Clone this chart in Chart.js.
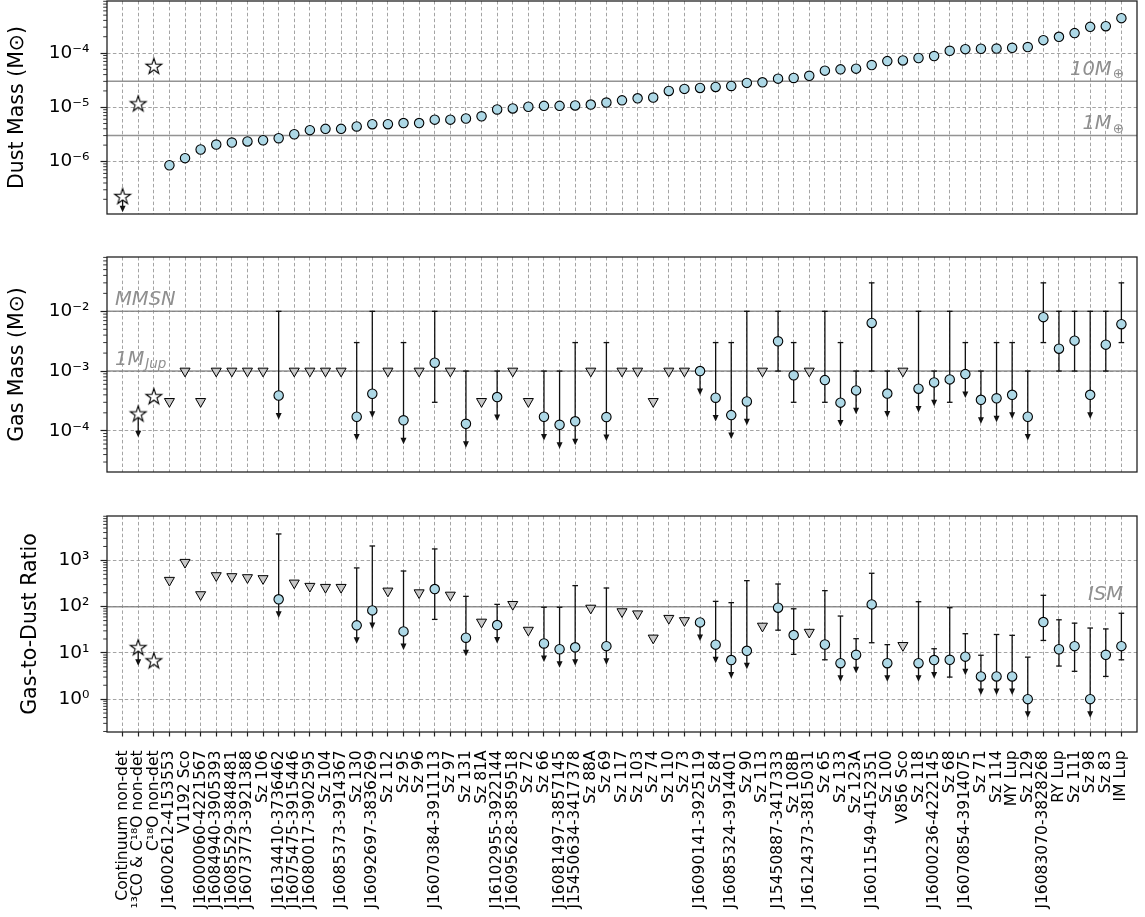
<!DOCTYPE html>
<html>
<head>
<meta charset="utf-8">
<title>Dust mass, gas mass and gas-to-dust ratio</title>
<script src="https://cdn.jsdelivr.net/npm/chart.js@4.4.1/dist/chart.umd.min.js"></script>
<style>
html,body{margin:0;padding:0;background:#fff;overflow:hidden;}
#wrap{position:relative;width:1145px;height:917px;}
#wrap canvas{position:absolute;left:0;}
</style>
</head>
<body>
<div id="wrap">
<canvas id="dust" width="1145" height="220" style="top:0px"></canvas>
<canvas id="gas" width="1145" height="230" style="top:250px"></canvas>
<canvas id="gtd" width="1145" height="409" style="top:508px"></canvas>
</div>
<script>
// ---------------- DATA ----------------
const labels = [
  'Continuum non-det', '\u00B9\u00B3CO & C\u00B9\u2078O non-det', 'C\u00B9\u2078O non-det',
  'J16002612-4153553', 'V1192 Sco', 'J16000060-4221567', 'J16084940-3905393', 'J16085529-3848481',
  'J16073773-3921388', 'Sz 106', 'J16134410-3736462', 'J16075475-3915446', 'J16080017-3902595',
  'Sz 104', 'J16085373-3914367', 'Sz 130', 'J16092697-3836269', 'Sz 112', 'Sz 95', 'Sz 96',
  'J16070384-3911113', 'Sz 97', 'Sz 131', 'Sz 81A', 'J16102955-3922144', 'J16095628-3859518',
  'Sz 72', 'Sz 66', 'J16081497-3857145', 'J15450634-3417378', 'Sz 88A', 'Sz 69', 'Sz 117',
  'Sz 103', 'Sz 74', 'Sz 110', 'Sz 73', 'J16090141-3925119', 'Sz 84', 'J16085324-3914401',
  'Sz 90', 'Sz 113', 'J15450887-3417333', 'Sz 108B', 'J16124373-3815031', 'Sz 65', 'Sz 133',
  'Sz 123A', 'J16011549-4152351', 'Sz 100', 'V856 Sco', 'Sz 118', 'J16000236-4222145', 'Sz 68',
  'J16070854-3914075', 'Sz 71', 'Sz 114', 'MY Lup', 'Sz 129', 'J16083070-3828268', 'RY Lup',
  'Sz 111', 'Sz 98', 'Sz 83', 'IM Lup'
];

// Dust mass (Msun); marker kind: S = star (stacked non-detections), C = circle
const dustMass = [
  2.3e-7, 1.18e-5, 5.8e-5, 8.5e-7, 1.15e-6, 1.66e-6, 2.05e-6, 2.23e-6, 2.34e-6, 2.46e-6,
  2.68e-6, 3.17e-6, 3.78e-6, 3.99e-6, 3.99e-6, 4.42e-6, 4.87e-6, 4.87e-6, 5.1e-6, 5.1e-6,
  5.9e-6, 5.9e-6, 6.2e-6, 6.8e-6, 9.1e-6, 9.5e-6, 1.02e-5, 1.06e-5, 1.06e-5, 1.08e-5,
  1.12e-5, 1.22e-5, 1.34e-5, 1.46e-5, 1.51e-5, 2.0e-5, 2.18e-5, 2.27e-5, 2.37e-5, 2.47e-5,
  2.81e-5, 2.88e-5, 3.37e-5, 3.47e-5, 3.8e-5, 4.73e-5, 5.0e-5, 5.15e-5, 6.0e-5, 7.1e-5,
  7.3e-5, 8.1e-5, 8.8e-5, 1.10e-4, 1.18e-4, 1.2e-4, 1.21e-4, 1.25e-4, 1.29e-4, 1.73e-4,
  1.99e-4, 2.33e-4, 3.04e-4, 3.13e-4, 4.4e-4
];
const dustKind = [
  'S','S','S','C','C','C','C','C','C','C',
  'C','C','C','C','C','C','C','C','C','C',
  'C','C','C','C','C','C','C','C','C','C',
  'C','C','C','C','C','C','C','C','C','C',
  'C','C','C','C','C','C','C','C','C','C',
  'C','C','C','C','C','C','C','C','C','C',
  'C','C','C','C','C'
];
const dustUpperLimits = [0];

// Gas: marker kind: - none, S star, T triangle (CO non-detection), C circle
const gasKind = [
  '-','S','S','T','T','T','T','T','T','T',
  'C','T','T','T','T','C','C','T','C','T',
  'C','T','C','T','C','T','T','C','C','C',
  'T','C','T','T','T','T','T','C','C','C',
  'C','T','C','C','T','C','C','C','C','C',
  'T','C','C','C','C','C','C','C','C','C',
  'C','C','C','C','C'
];
const gasUpperLimits = [1, 10, 15, 16, 18, 22, 24, 27, 28, 29, 31, 37, 38, 39, 40, 46, 47, 49, 51, 52, 54, 55, 56, 57, 58, 62];

// Gas mass (Msun)
const gasMass = [
  null, 1.95e-4, 3.8e-4, 3.1e-4, 1e-3, 3.1e-4, 1e-3, 1e-3, 1e-3, 1e-3,
  3.9e-4, 1e-3, 1e-3, 1e-3, 1e-3, 1.72e-4, 4.17e-4, 1e-3, 1.5e-4, 1e-3,
  1.38e-3, 1e-3, 1.31e-4, 3.1e-4, 3.67e-4, 1e-3, 3.1e-4, 1.72e-4, 1.26e-4, 1.44e-4,
  1e-3, 1.7e-4, 1e-3, 1e-3, 3.1e-4, 1e-3, 1e-3, 1e-3, 3.58e-4, 1.83e-4,
  3.1e-4, 1e-3, 3.15e-3, 8.5e-4, 1e-3, 7.06e-4, 2.96e-4, 4.75e-4, 6.4e-3, 4.2e-4,
  1e-3, 5.07e-4, 6.46e-4, 7.25e-4, 8.9e-4, 3.3e-4, 3.5e-4, 4.0e-4, 1.72e-4, 8.0e-3,
  2.37e-3, 3.23e-3, 4.0e-4, 2.77e-3, 6.1e-3
];
const gasMassHigh = [
  null, null, null, null, null, null, null, null, null, null,
  1e-2, null, null, null, null, 3e-3, 1e-2, null, 3e-3, null,
  1e-2, null, 1e-3, null, 1e-3, null, null, 1e-3, 1e-3, 3e-3,
  null, 3e-3, null, null, null, null, null, null, 3e-3, 3e-3,
  1e-2, null, 1e-2, 3e-3, null, 1e-2, 3e-3, 1e-3, 3e-2, 1e-3,
  null, 1e-2, 1e-3, 1e-2, 3e-3, 1e-3, 3e-3, 3e-3, 1e-3, 3e-2,
  1e-2, 1e-2, 1e-2, 1e-2, 3e-2
];
const gasMassLow = [
  null, null, null, null, null, null, null, null, null, null,
  null, null, null, null, null, null, null, null, null, null,
  3e-4, null, null, null, null, null, null, null, null, null,
  null, null, null, null, null, null, null, null, null, null,
  null, null, 1e-3, 3e-4, null, 3e-4, null, null, 1e-3, null,
  null, null, null, 3e-4, null, null, null, null, null, 3e-3,
  1e-3, 1e-3, null, 1e-3, 3e-3
];

// Gas-to-dust ratio
const gasToDust = [
  null, 13.3, 6.9, 372, 910, 182, 469, 447, 425, 405,
  144, 325, 276, 262, 262, 39.4, 83, 218, 29.2, 200,
  240, 178, 21.3, 46.4, 40, 112, 31, 16, 12, 13.2,
  93, 14, 78, 70, 21, 56, 50, 45.7, 15.1, 7.0,
  11.1, 38, 95, 24.3, 28, 15.2, 6.0, 9.1, 112, 6.0,
  14.5, 6.0, 7.0, 7.1, 8.3, 3.1, 3.1, 3.1, 1.0, 46.4,
  12.0, 14.0, 1.0, 9.1, 14.0
];
const gasToDustHigh = [
  null, null, null, null, null, null, null, null, null, null,
  3730, null, null, null, null, 688, 2050, null, 590, null,
  1770, null, 167, null, 112, null, null, 97, 97, 285,
  null, 253, null, null, null, null, null, null, 130, 122,
  365, null, 309, 90, null, 222, 62.7, 20.3, 527, 15.1,
  null, 128, 12.3, 95, 26, 8.9, 25, 24, 8.1, 176,
  52, 44, 34.5, 33, 72
];
const gasToDustLow = [
  null, null, null, null, null, null, null, null, null, null,
  null, null, null, null, null, null, null, null, null, null,
  53, null, null, null, null, null, null, null, null, null,
  null, null, null, null, null, null, null, null, null, null,
  null, null, 31, 9.3, null, 7.1, null, null, 16.6, null,
  null, null, null, 3.0, null, null, null, null, null, 18.6,
  5.2, 4.0, null, 3.1, 7.1
];

// Reference lines
const dustRefValues = [3.0e-5, 3.0e-6];
const dustRefLabels = [['10M', '\u2295'], ['1M', '\u2295']];
const gasRefValues = [1e-2, 1e-3];
const gasRefLabels = [['MMSN', ''], ['1M', 'Jup']];
const gtdRefValues = [100];
const gtdRefLabels = [['ISM', '']];

// ---------------- STYLE / HELPERS ----------------
const FONT = 'DejaVu Sans';
const GRID = '#9a9a9a';
const REF = 'rgba(128,128,128,0.85)';
const NOTE = '#8f8f8f';
const DASH = [3.5, 2.4];

function isDecade(v) { const l = Math.log10(v); return Math.abs(l - Math.round(l)) < 1e-7; }
function sup(n) {
  const m = {'-':'\u207B','0':'\u2070','1':'\u00B9','2':'\u00B2','3':'\u00B3','4':'\u2074','5':'\u2075','6':'\u2076','7':'\u2077','8':'\u2078','9':'\u2079'};
  return String(n).split('').map(c => m[c]).join('');
}
function logTicks(scale) {
  const lo = Math.floor(Math.log10(scale.min)), hi = Math.ceil(Math.log10(scale.max));
  const t = [];
  for (let e = lo; e <= hi; e++) for (let m = 1; m < 10; m++) {
    const v = m * Math.pow(10, e);
    if (v >= scale.min && v <= scale.max) t.push({value: v});
  }
  scale.ticks = t;
}

function starImage(R) {
  const s = Math.ceil(2 * R + 3);
  const c = document.createElement('canvas'); c.width = s; c.height = s;
  const g = c.getContext('2d');
  const cx = s / 2, cy = s / 2 + 0.8, r = R * 0.39;
  g.beginPath();
  for (let k = 0; k < 10; k++) {
    const a = -Math.PI / 2 + k * Math.PI / 5, rr = (k % 2) ? r : R;
    g.lineTo(cx + rr * Math.cos(a), cy + rr * Math.sin(a));
  }
  g.closePath();
  g.fillStyle = '#fff'; g.fill();
  g.lineWidth = 1.1; g.strokeStyle = '#000'; g.lineJoin = 'miter'; g.stroke();
  return c;
}
const STAR = starImage(8.3);

function points(vals, kinds, k) {
  const out = [];
  vals.forEach((v, i) => { if (kinds[i] === k && v != null) out.push({x: i, y: v}); });
  return out;
}
function circleSet(data) {
  return {data, pointStyle: 'circle', pointRadius: 4.7, pointBackgroundColor: '#add8e6',
          pointBorderColor: '#000', pointBorderWidth: 1.1};
}
function triSet(data) {
  return {data, pointStyle: 'triangle', pointRotation: 180, pointRadius: 5.8,
          pointBackgroundColor: '#c6c6c6', pointBorderColor: '#000', pointBorderWidth: 1};
}
function starSet(data) {
  return {data, pointStyle: STAR, pointRadius: 8};
}

function xScale(showLabels) {
  return {
    type: 'linear', position: 'bottom', min: -1, max: 65,
    afterBuildTicks: s => { s.ticks = labels.map((_, i) => ({value: i})); },
    afterFit: s => { s.height = showLabels ? 185 : 0; s.paddingLeft = 0; s.paddingRight = 0; },
    ticks: {display: showLabels, autoSkip: false, minRotation: 90, maxRotation: 90, padding: 14,
            color: '#000', font: {family: FONT, size: 15.5}, callback: v => labels[v]},
    grid: {color: GRID, lineWidth: 0.9, drawTicks: showLabels, tickLength: 4.5, tickColor: '#222',
           tickWidth: 1.2, tickBorderDash: []},
    border: {display: false, dash: DASH}
  };
}
function yScale(min, max, title, titlePad) {
  return {
    type: 'logarithmic', position: 'left', min, max,
    afterBuildTicks: logTicks,
    afterFit: s => { s.width = 107; s.paddingTop = 0; s.paddingBottom = 0; },
    ticks: {autoSkip: false, padding: 11, color: '#000', font: {family: FONT, size: 18.5},
            callback: v => isDecade(v) ? '10' + sup(Math.round(Math.log10(v))) : ''},
    grid: {color: c => (c.tick && isDecade(c.tick.value)) ? GRID : 'rgba(0,0,0,0)',
           lineWidth: 0.9, tickLength: 6.5, tickWidth: 1.2, tickBorderDash: [],
           tickColor: c => (c.tick && isDecade(c.tick.value)) ? '#222' : 'rgba(0,0,0,0)'},
    border: {display: false, dash: DASH},
    title: {display: true, text: title, color: '#000', font: {family: FONT, size: 20.5},
            padding: {top: titlePad, bottom: 0}}
  };
}

function deco(cfg) {
  return {
    id: 'deco_' + cfg.name,
    beforeDatasetsDraw(chart) {
      const {ctx, chartArea: a} = chart, x = chart.scales.x, y = chart.scales.y;
      ctx.save();
      ctx.beginPath(); ctx.rect(a.left, a.top, a.right - a.left, a.bottom - a.top); ctx.clip();
      ctx.setLineDash([]);
      ctx.strokeStyle = REF; ctx.lineWidth = 1.5;
      cfg.refs.forEach(v => {
        const py = y.getPixelForValue(v);
        ctx.beginPath(); ctx.moveTo(a.left, py); ctx.lineTo(a.right, py); ctx.stroke();
      });
      const seg = (x1, y1, x2, y2) => { ctx.beginPath(); ctx.moveTo(x1, y1); ctx.lineTo(x2, y2); ctx.stroke(); };
      ctx.strokeStyle = '#111'; ctx.fillStyle = '#111'; ctx.lineWidth = 1.3;
      cfg.values.forEach((v, i) => {
        if (v == null) return;
        const px = x.getPixelForValue(i), py = y.getPixelForValue(v);
        [cfg.hi ? cfg.hi[i] : null, cfg.lo ? cfg.lo[i] : null].forEach(e => {
          if (e == null) return;
          const pe = y.getPixelForValue(e);
          seg(px, py, px, pe); seg(px - 2.8, pe, px + 2.8, pe);
        });
        if (cfg.ul.includes(i)) {
          const pt = y.getPixelForValue(v * Math.pow(10, -cfg.arrowDex));
          seg(px, py, px, pt - 4);
          ctx.beginPath(); ctx.moveTo(px, pt); ctx.lineTo(px - 3, pt - 6.5); ctx.lineTo(px + 3, pt - 6.5);
          ctx.closePath(); ctx.fill();
        }
      });
      ctx.restore();
    },
    afterDraw(chart) {
      const {ctx, chartArea: a} = chart, y = chart.scales.y;
      ctx.save();
      // reference line annotations
      cfg.notes.forEach((n, k) => {
        const py = y.getPixelForValue(cfg.refs[k]) - 6.5;
        ctx.fillStyle = NOTE; ctx.textAlign = 'left'; ctx.textBaseline = 'alphabetic';
        ctx.font = 'italic 19.5px "' + FONT + '"';
        const wm = ctx.measureText(n[0]).width;
        ctx.font = (n[1] === 'Jup' ? 'italic ' : '') + '13.5px "' + FONT + '"';
        const ws = n[1] ? ctx.measureText(n[1]).width : 0;
        const x0 = cfg.noteSide === 'right' ? a.right - 14 - wm - ws : a.left + 8;
        ctx.font = 'italic 19.5px "' + FONT + '"';
        ctx.fillText(n[0], x0, py);
        if (n[1]) {
          ctx.font = (n[1] === 'Jup' ? 'italic ' : '') + '13.5px "' + FONT + '"';
          ctx.fillText(n[1], x0 + wm + 1, py + 3.5);
        }
      });
      // minor ticks on log axis
      ctx.strokeStyle = '#222'; ctx.lineWidth = 0.9; ctx.setLineDash([]);
      y.ticks.forEach(t => {
        if (isDecade(t.value)) return;
        const py = y.getPixelForValue(t.value);
        ctx.beginPath(); ctx.moveTo(a.left - 3.8, py); ctx.lineTo(a.left, py); ctx.stroke();
      });
      // frame
      ctx.strokeStyle = '#222'; ctx.lineWidth = 1.3;
      ctx.strokeRect(a.left, a.top, a.right - a.left, a.bottom - a.top);
      ctx.restore();
    }
  };
}

function makeChart(id, datasets, yOpts, showX, pad, cfg) {
  return new Chart(document.getElementById(id), {
    type: 'scatter',
    data: {datasets},
    options: {
      responsive: false, animation: false, devicePixelRatio: 1, events: [],
      layout: {autoPadding: false, padding: {left: 0, right: 8, top: pad[0], bottom: pad[1]}},
      plugins: {legend: {display: false}, tooltip: {enabled: false}},
      scales: {x: xScale(showX), y: yOpts}
    },
    plugins: [deco(cfg)]
  });
}

// ---------------- CHARTS ----------------
makeChart('dust',
  [starSet(points(dustMass, dustKind, 'S')), circleSet(points(dustMass, dustKind, 'C'))],
  yScale(Math.pow(10, -6.97), Math.pow(10, -3.04), 'Dust Mass (M\u2299)', 5.5),
  false, [1, 6],
  {name: 'dust', values: dustMass, hi: null, lo: null, ul: dustUpperLimits, arrowDex: 0.3,
   refs: dustRefValues, notes: dustRefLabels, noteSide: 'right'});

makeChart('gas',
  [starSet(points(gasMass, gasKind, 'S')), triSet(points(gasMass, gasKind, 'T')),
   circleSet(points(gasMass, gasKind, 'C'))],
  yScale(Math.pow(10, -4.69), Math.pow(10, -1.09), 'Gas Mass (M\u2299)', 5.5),
  false, [7, 8],
  {name: 'gas', values: gasMass, hi: gasMassHigh, lo: gasMassLow, ul: gasUpperLimits, arrowDex: 0.4,
   refs: gasRefValues, notes: gasRefLabels, noteSide: 'left'});

makeChart('gtd',
  [starSet(points(gasToDust, gasKind, 'S')), triSet(points(gasToDust, gasKind, 'T')),
   circleSet(points(gasToDust, gasKind, 'C'))],
  yScale(Math.pow(10, -0.71), Math.pow(10, 3.96), 'Gas-to-Dust Ratio', 18),
  true, [8, 0],
  {name: 'gtd', values: gasToDust, hi: gasToDustHigh, lo: gasToDustLow, ul: gasUpperLimits, arrowDex: 0.4,
   refs: gtdRefValues, notes: gtdRefLabels, noteSide: 'right'});
</script>
</body>
</html>
